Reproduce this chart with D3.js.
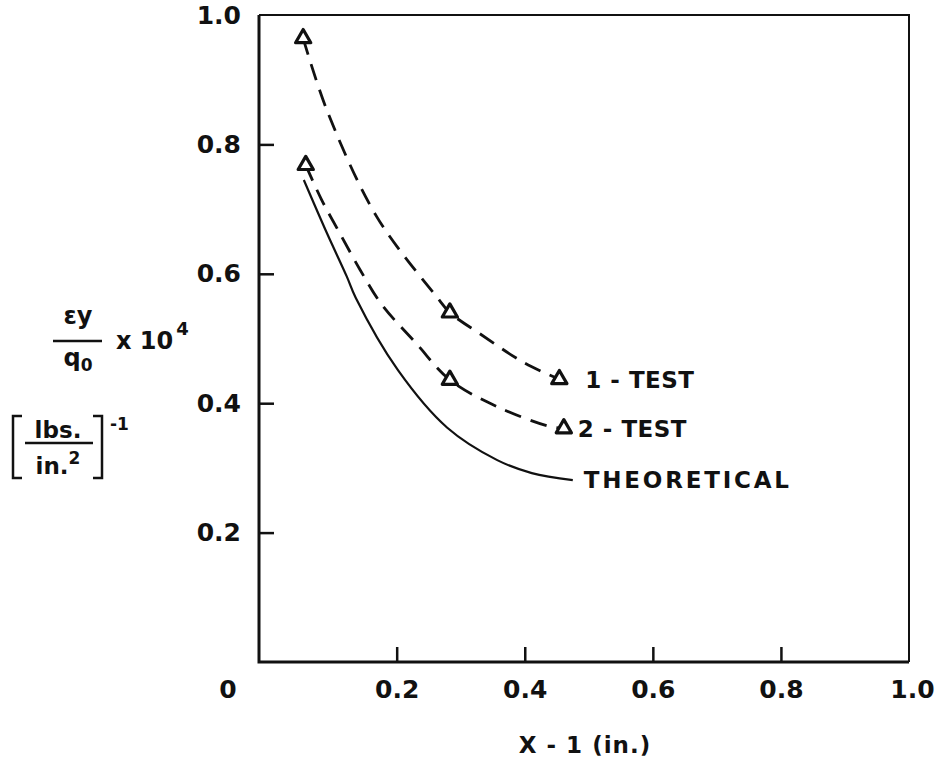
<!DOCTYPE html>
<html>
<head>
<meta charset="utf-8">
<script src="https://cdn.jsdelivr.net/npm/d3@7"></script>
<style>
  body { margin: 0; background: #fff; }
  svg { display: block; }
  text { font-family: "DejaVu Sans", sans-serif; fill: #111; font-weight: bold; }
</style>
</head>
<body>
<div id="chart"></div>
<script>
const WIDTH = 939;
const HEIGHT = 759;

// axis ticks
const xTicks = [0.2, 0.4, 0.6, 0.8, 1.0];
const xTickLabels = ["0.2", "0.4", "0.6", "0.8", "1.0"];
const yTicks = [0.2, 0.4, 0.6, 0.8, 1.0];
const yTickLabels = ["0.2", "0.4", "0.6", "0.8", "1.0"];

// measured points (triangles)
const test1X = [0.054, 0.283, 0.454];
const test1Y = [0.964, 0.540, 0.437];
const test2X = [0.058, 0.283, 0.461];
const test2Y = [0.768, 0.436, 0.361];

// faired curves as drawn through the tests, and the theoretical curve
const curve1X = [0.054, 0.091, 0.169, 0.262, 0.283, 0.329, 0.400, 0.454];
const curve1Y = [0.964, 0.853, 0.688, 0.565, 0.540, 0.508, 0.462, 0.437];
const curve2X = [0.058, 0.083, 0.111, 0.143, 0.177, 0.230, 0.283, 0.356, 0.439, 0.461];
const curve2Y = [0.768, 0.714, 0.663, 0.606, 0.552, 0.493, 0.436, 0.395, 0.364, 0.361];
const theoryX = [0.055, 0.091, 0.122, 0.136, 0.202, 0.279, 0.357, 0.411, 0.475];
const theoryY = [0.745, 0.663, 0.596, 0.563, 0.451, 0.362, 0.312, 0.292, 0.281];

const seriesLabels = ["1 - TEST", "2 - TEST", "THEORETICAL"];

const zip = (xs, ys) => xs.map((v, i) => [v, ys[i]]);

const svg = d3.select("#chart")
  .append("svg")
  .attr("width", WIDTH)
  .attr("height", HEIGHT);

// x frame starts a little left of zero, as on the original sheet
let x = d3.scaleLinear().domain([-0.015, 1.0]).range([259, 909]);
let y = d3.scaleLinear().domain([0, 1.0]).range([662, 15]);

// frame
const [x0, x1] = x.range();
const [yb, yt] = y.range();
svg.append("path")
  .attr("d", `M${x0},${yt}H${x1}V${yb}`)
  .attr("fill", "none").attr("stroke", "#111").attr("stroke-width", 2);
svg.append("path")
  .attr("d", `M${x0},${yt}V${yb}H${x1}`)
  .attr("fill", "none").attr("stroke", "#111").attr("stroke-width", 3);

// x axis
let xAxis = svg.append("g")
  .attr("transform", "translate(0," + yb + ")")
  .call(d3.axisBottom(x)
    .tickValues(xTicks)
    .tickFormat((d, i) => xTickLabels[i])
    .tickSizeInner(-15)
    .tickSizeOuter(0)
    .tickPadding(18));
xAxis.select(".domain").remove();
xAxis.selectAll(".tick line").attr("stroke", "#111").attr("stroke-width", 2.5)
  .filter(d => d === 1.0).remove();
xAxis.selectAll(".tick text")
  .attr("font-size", 25).attr("font-family", "DejaVu Sans").attr("fill", "#111")
  .attr("dx", d => d === 1.0 ? 3 : 0);

// y axis
let yAxis = svg.append("g")
  .attr("transform", "translate(" + x0 + ",0)")
  .call(d3.axisLeft(y)
    .tickValues(yTicks)
    .tickFormat((d, i) => yTickLabels[i])
    .tickSizeInner(-15)
    .tickSizeOuter(0)
    .tickPadding(18));
yAxis.select(".domain").remove();
yAxis.selectAll(".tick line").attr("stroke", "#111").attr("stroke-width", 2.5)
  .filter(d => d === 1.0).remove();
yAxis.selectAll(".tick text")
  .attr("font-size", 25).attr("font-family", "DejaVu Sans").attr("fill", "#111");

// origin label
svg.append("text")
  .attr("x", 228).attr("y", yb + 18).attr("dy", "0.71em")
  .attr("text-anchor", "middle").attr("font-size", 25)
  .text("0");

// curves
let line = d3.line()
  .x(d => x(d[0]))
  .y(d => y(d[1]))
  .curve(d3.curveCatmullRom.alpha(0.5));

svg.append("path")
  .datum(zip(curve1X, curve1Y))
  .attr("d", line)
  .attr("fill", "none").attr("stroke", "#111").attr("stroke-width", 2.8)
  .attr("stroke-dasharray", "17,10");
svg.append("path")
  .datum(zip(curve2X, curve2Y))
  .attr("d", line)
  .attr("fill", "none").attr("stroke", "#111").attr("stroke-width", 2.8)
  .attr("stroke-dasharray", "17,10");
svg.append("path")
  .datum(zip(theoryX, theoryY))
  .attr("d", line)
  .attr("fill", "none").attr("stroke", "#111").attr("stroke-width", 2.2);

// triangles
const tri = d3.symbol().type(d3.symbolTriangle).size(100);
[zip(test1X, test1Y), zip(test2X, test2Y)].forEach(pts => {
  svg.append("g")
    .selectAll("path")
    .data(pts)
    .enter()
    .append("path")
    .attr("d", tri)
    .attr("transform", d => "translate(" + x(d[0]) + "," + y(d[1]) + ")")
    .attr("fill", "#fff")
    .attr("stroke", "#111")
    .attr("stroke-width", 3.2)
    .attr("stroke-linejoin", "round");
});

// curve labels
const labelEnds = [
  [test1X[2], test1Y[2], 26],
  [test2X[2], test2Y[2], 14],
  [theoryX[theoryX.length - 1], theoryY[theoryY.length - 1], 11]
];
labelEnds.forEach((e, i) => {
  svg.append("text")
    .attr("x", x(e[0]) + e[2])
    .attr("y", y(e[1]))
    .attr("dy", "0.36em")
    .attr("font-size", 23)
    .attr("letter-spacing", i === 2 ? 2.8 : 0.5)
    .text(seriesLabels[i]);
});

// x title
svg.append("text")
  .attr("x", 585).attr("y", 745).attr("dy", "0.36em")
  .attr("text-anchor", "middle").attr("font-size", 23)
  .attr("letter-spacing", 1)
  .text("X - 1 (in.)");

// y title: strain over load x 10^4
let yt1 = svg.append("g");
yt1.append("text").attr("x", 78).attr("y", 324).attr("text-anchor", "middle")
  .attr("font-size", 24).text("\u03B5y");
yt1.append("line").attr("x1", 53).attr("x2", 102).attr("y1", 341).attr("y2", 341)
  .attr("stroke", "#111").attr("stroke-width", 2.5);
yt1.append("text").attr("x", 78).attr("y", 366).attr("text-anchor", "middle")
  .attr("font-size", 24)
  .call(t => {
    t.append("tspan").text("q");
    t.append("tspan").attr("font-size", 17).attr("dy", 5).text("0");
  });
yt1.append("text").attr("x", 116).attr("y", 349).attr("font-size", 24)
  .call(t => {
    t.append("tspan").text("x 10");
    t.append("tspan").attr("font-size", 18).attr("dy", -14).attr("dx", 3).text("4");
  });

// units: [lbs./in.^2]^-1
let yt2 = svg.append("g");
yt2.append("path")
  .attr("d", "M22,416H13V478H22 M93,416H102V478H93")
  .attr("fill", "none").attr("stroke", "#111").attr("stroke-width", 2.5);
yt2.append("line").attr("x1", 25).attr("x2", 93).attr("y1", 443).attr("y2", 443)
  .attr("stroke", "#111").attr("stroke-width", 2.5);
yt2.append("text").attr("x", 58).attr("y", 438).attr("text-anchor", "middle")
  .attr("font-size", 23).text("lbs.");
yt2.append("text").attr("x", 58).attr("y", 474).attr("text-anchor", "middle")
  .attr("font-size", 23)
  .call(t => {
    t.append("tspan").text("in.");
    t.append("tspan").attr("font-size", 17).attr("dy", -10).text("2");
  });
yt2.append("text").attr("x", 110).attr("y", 430).attr("font-size", 17).text("-1");
</script>
</body>
</html>
